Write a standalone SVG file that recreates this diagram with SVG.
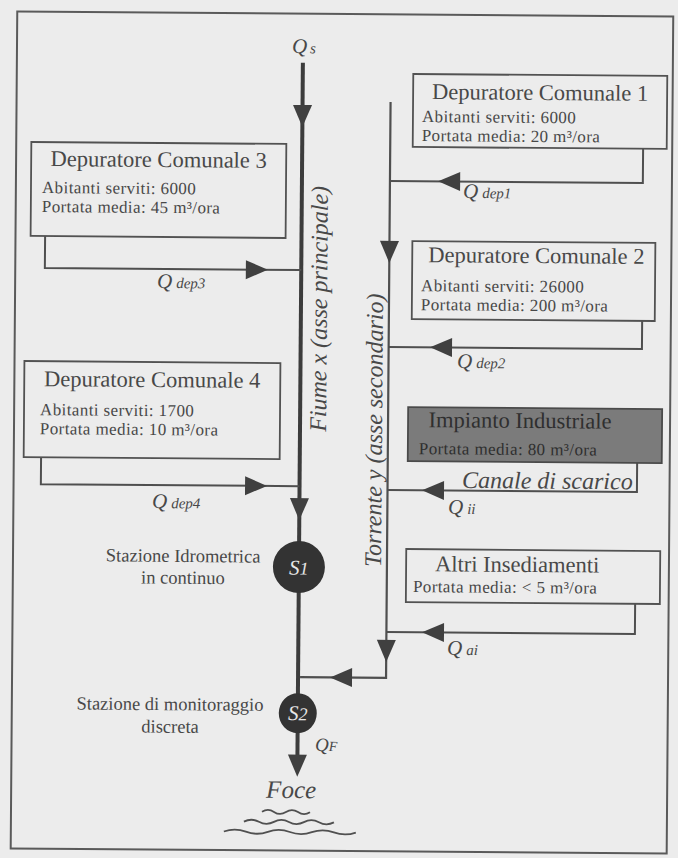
<svg xmlns="http://www.w3.org/2000/svg" width="678" height="858" viewBox="0 0 678 858">
<style>
  .bg{fill:#ececec}
  .frame{fill:none;stroke:#5a5a5a;stroke-width:2}
  .box{fill:none;stroke:#525252;stroke-width:1.8}
  .ind{fill:#7b7b7b;stroke:#4a4a4a;stroke-width:1.8}
  .t{font-family:"Liberation Serif","Times New Roman",serif;fill:#484848}
  .title{font-size:22.5px}
  .body{font-size:17px;letter-spacing:0.4px}
  .it{font-style:italic}
  .q{font-family:"Liberation Serif","Times New Roman",serif;font-style:italic;font-size:21px;fill:#484848}
  .sub{font-size:15px}
  .main{stroke:#3c3c3c;stroke-width:4;fill:none}
  .trib{stroke:#4f4f4f;stroke-width:2.2;fill:none}
  .con{stroke:#4f4f4f;stroke-width:2;fill:none}
  .ah{fill:#404040}
  .st{fill:#333333}
  .stt{font-family:"Liberation Serif","Times New Roman",serif;fill:#e6e6e6;font-style:italic;font-size:21px}
  .wave{stroke:#505050;stroke-width:1.8;fill:none}
</style>
<defs>
  <path id="ah" d="M0,0 L-22,-9.5 L-22,9.5 Z"/>
</defs>
<rect class="bg" x="0" y="0" width="678" height="858"/>
<g transform="rotate(0.45 339 429)">
  <rect class="frame" x="14" y="14" width="656" height="837"/>

  <g id="connectors">
    <path class="main" d="M300,63 V765"/>
    <use href="#ah" class="ah" transform="translate(300,127.3) rotate(90)"/>
    <use href="#ah" class="ah" transform="translate(300,520.5) rotate(90)"/>
    <use href="#ah" class="ah" transform="translate(300,777) rotate(90)"/>

    <path class="trib" d="M388,101.5 V677.5 H302"/>
    <use href="#ah" class="ah" transform="translate(388,262.5) rotate(90)"/>
    <use href="#ah" class="ah" transform="translate(388,661.5) rotate(90)"/>
    <use href="#ah" class="ah" transform="translate(332,677.5) rotate(180)"/>

    <path class="con" d="M640.9,146.4 V180.6 H388"/>
    <use href="#ah" class="ah" transform="translate(436.2,180.6) rotate(180)"/>
    <path class="con" d="M641.3,318.5 V346.6 H388"/>
    <use href="#ah" class="ah" transform="translate(429.4,346.6) rotate(180)"/>
    <path class="con" d="M43.6,238.4 V270.4 H300"/>
    <use href="#ah" class="ah" transform="translate(266.6,270.4)"/>
    <path class="con" d="M41.3,459.5 V486.5 H300"/>
    <use href="#ah" class="ah" transform="translate(267.5,486.5)"/>
    <path class="con" d="M637.4,460.5 V489.6 H388"/>
    <use href="#ah" class="ah" transform="translate(422.5,489.6) rotate(180)"/>
    <path class="con" d="M636.5,601.5 V631.6 H388"/>
    <use href="#ah" class="ah" transform="translate(423.6,631.6) rotate(180)"/>

    <text class="q" x="289" y="53.5">Q<tspan class="sub" dx="3">s</tspan></text>
    <text class="q" x="461.2" y="197">Q<tspan class="sub" dx="4">dep1</tspan></text>
    <text class="q" x="456.5" y="367">Q<tspan class="sub" dx="4">dep2</tspan></text>
    <text class="q" x="155.9" y="289.4">Q<tspan class="sub" dx="4">dep3</tspan></text>
    <text class="q" x="152.6" y="509.5">Q<tspan class="sub" dx="4">dep4</tspan></text>
    <text class="q" x="448.7" y="513">Q<tspan class="sub" dx="4">ii</tspan></text>
    <text class="q" x="448.8" y="654">Q<tspan class="sub" dx="4">ai</tspan></text>
    <text class="q" x="317.5" y="751.2" style="font-size:19px">Q<tspan style="font-size:14px">F</tspan></text>

    <text class="t it" x="326" y="309" text-anchor="middle" font-size="24" transform="rotate(-90 326 309)">Fiume x (asse principale)</text>
    <text class="t it" x="382" y="430" text-anchor="middle" font-size="24" transform="rotate(-90 382 430)">Torrente y  (asse secondario)</text>
  </g>

  <g id="dep1">
    <rect class="box" x="410.5" y="73.4" width="254" height="73"/>
    <text class="t title" x="537.5" y="98.4" text-anchor="middle">Depuratore Comunale 1</text>
    <text class="t body" x="419.5" y="121.4">Abitanti serviti: 6000</text>
    <text class="t body" x="419.5" y="140.4">Portata media: 20 m³/ora</text>
  </g>

  <g id="dep2">
    <rect class="box" x="410.9" y="240.5" width="243" height="78"/>
    <text class="t title" x="535" y="261.5" text-anchor="middle">Depuratore Comunale 2</text>
    <text class="t body" x="419.9" y="290.5">Abitanti serviti: 26000</text>
    <text class="t body" x="419.9" y="309.5">Portata media: 200 m³/ora</text>
  </g>

  <g id="dep3">
    <rect class="box" x="29.1" y="144.4" width="255" height="94"/>
    <text class="t title" x="156.6" y="168.4" text-anchor="middle">Depuratore Comunale 3</text>
    <text class="t body" x="40.1" y="195.4">Abitanti serviti: 6000</text>
    <text class="t body" x="40.1" y="214.4">Portata media: 45 m³/ora</text>
  </g>

  <g id="dep4">
    <rect class="box" x="23.9" y="363.5" width="256" height="96"/>
    <text class="t title" x="151.9" y="388.5" text-anchor="middle">Depuratore Comunale 4</text>
    <text class="t body" x="39.9" y="417.5">Abitanti serviti: 1700</text>
    <text class="t body" x="39.9" y="436.5">Portata media: 10 m³/ora</text>
  </g>

  <g id="industriale">
    <rect class="ind" x="408" y="406.5" width="254" height="54"/>
    <text class="t title" x="520" y="426.5" text-anchor="middle" style="fill:#2f2f2f">Impianto Industriale</text>
    <text class="t body" x="419" y="453.5" style="fill:#2f2f2f">Portata media: 80 m³/ora</text>
  </g>

  <g id="canale">
    <text class="t it" x="462.5" y="487" font-size="24">Canale di scarico</text>
  </g>

  <g id="altri">
    <rect class="box" x="407.2" y="548.5" width="254" height="53"/>
    <text class="t title" x="518.2" y="570.5" text-anchor="middle">Altri Insediamenti</text>
    <text class="t body" x="414.2" y="591.5">Portata media: &lt; 5 m³/ora</text>
  </g>

  <g id="s1">
    <ellipse class="st" cx="300" cy="567.3" rx="26" ry="26"/>
    <text class="stt" x="300" y="574.8" text-anchor="middle">S<tspan style="font-size:18px">1</tspan></text>
    <text class="t" x="184.2" y="563.2" text-anchor="middle" font-size="18.5">Stazione Idrometrica</text>
    <text class="t" x="184.2" y="585" text-anchor="middle" font-size="18.5">in continuo</text>
  </g>

  <g id="s2">
    <ellipse class="st" cx="300" cy="713.5" rx="19" ry="20"/>
    <text class="stt" x="300" y="720.5" text-anchor="middle">S<tspan style="font-size:18px">2</tspan></text>
    <text class="t" x="172.2" y="711.5" text-anchor="middle" font-size="18.5">Stazione di monitoraggio</text>
    <text class="t" x="172.4" y="734" text-anchor="middle" font-size="18.5">discreta</text>
  </g>

  <g id="foce">
    <text class="t it" x="294" y="798.4" text-anchor="middle" font-size="25">Foce</text>
    <path class="wave" d="M265,812.4 q6,-4 12,0 t12,0 t12,0 t12,0"/>
    <path class="wave" d="M247,822.4 q7.5,-4 15,0 t15,0 t15,0 t15,0 t15,0 t15,0"/>
    <path class="wave" d="M227,832.4 q11,-4 22,0 t22,0 t22,0 t22,0 t22,0 t22,0"/>
  </g>
</g>
</svg>
